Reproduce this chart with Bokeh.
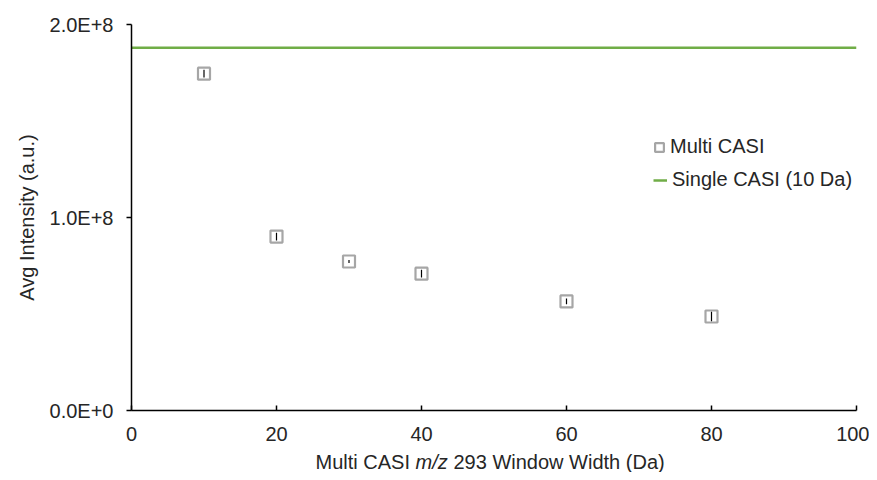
from bokeh.plotting import figure
from bokeh.layouts import column
from bokeh.models import (FixedTicker, CustomJSTickFormatter, Label, Legend,
                          LegendItem, Range1d, ColumnDataSource)
from bokeh.embed import file_html
from bokeh.resources import INLINE

# ---- data ----
window_width = [10, 20, 30, 40, 60, 80]
avg_intensity = [1.745e8, 0.901e8, 0.772e8, 0.709e8, 0.565e8, 0.487e8]
intensity_err = [2.0e6, 2.0e6, 0.8e6, 2.0e6, 1.5e6, 2.5e6]
single_casi = 1.88e8
x_limits = [0, 100]
y_limits = [0, 2.0e8]
x_ticks = [0, 20, 40, 60, 80, 100]
y_ticks = [0, 1.0e8, 2.0e8]

FONT = "Liberation Sans"
FS = "20px"
TXT = "#262626"
W = 869

p = figure(width=W, height=450, output_backend="svg", toolbar_location=None,
           min_border_left=131, min_border_right=13, min_border_top=24,
           min_border_bottom=40,
           x_range=Range1d(*x_limits), y_range=Range1d(*y_limits))
p.outline_line_color = None
p.grid.visible = False

src = ColumnDataSource(dict(
    x=window_width, y=avg_intensity,
    lo=[v - e for v, e in zip(avg_intensity, intensity_err)],
    hi=[v + e for v, e in zip(avg_intensity, intensity_err)]))

line_r = p.line(x=x_limits, y=[single_casi, single_casi], line_color="#70AD47",
                line_width=2.5)
sq = p.scatter("x", "y", source=src, marker="square", size=12,
               fill_color="white", line_color="#A6A6A6", line_width=2.2)
p.segment(x0="x", y0="lo", x1="x", y1="hi", source=src, line_color="black",
          line_width=1.2)

# axes
for ax in (p.xaxis[0], p.yaxis[0]):
    ax.axis_line_color = "black"
    ax.axis_line_width = 1.5
    ax.major_tick_line_color = "black"
    ax.major_tick_line_width = 1.5
    ax.minor_tick_line_color = None
    ax.major_label_text_font = FONT
    ax.major_label_text_font_size = FS
    ax.major_label_text_color = TXT

p.xaxis.ticker = FixedTicker(ticks=x_ticks)
p.xaxis.major_tick_in = 5
p.xaxis.major_tick_out = 0
p.xaxis.major_label_standoff = 16
p.xaxis.axis_label = None

p.yaxis.ticker = FixedTicker(ticks=y_ticks)
p.yaxis.major_tick_in = 0
p.yaxis.major_tick_out = 5
p.yaxis.major_label_standoff = 13
p.yaxis.formatter = CustomJSTickFormatter(
    code="return tick.toExponential(1).toUpperCase();")
p.yaxis.axis_label = "Avg Intensity (a.u.)"
p.yaxis.axis_label_text_font = FONT
p.yaxis.axis_label_text_font_size = FS
p.yaxis.axis_label_text_font_style = "normal"
p.yaxis.axis_label_text_color = TXT
p.yaxis.axis_label_standoff = 9

leg_common = dict(border_line_color=None, background_fill_alpha=0, padding=0,
                  margin=0, label_text_font=FONT, label_text_font_size=FS,
                  label_text_color=TXT, label_height=22)
legend1 = Legend(items=[LegendItem(label="Multi CASI", renderers=[sq])],
                 location=(517, 252), glyph_width=22, glyph_height=22,
                 label_standoff=0, **leg_common)
legend2 = Legend(items=[LegendItem(label="Single CASI (10 Da)", renderers=[line_r])],
                 location=(522, 219), glyph_width=14, glyph_height=22,
                 label_standoff=5, **leg_common)
p.add_layout(legend1)
p.add_layout(legend2)

# x-axis title (mixed upright / italic) in a thin strip below the chart
t = figure(width=W, height=22, output_backend="svg", toolbar_location=None,
           min_border=0, x_axis_type=None, y_axis_type=None,
           x_range=Range1d(0, 1), y_range=Range1d(0, 1))
t.outline_line_color = None
t.grid.visible = False
common = dict(x_units="screen", y_units="screen", y=11,
              text_font=FONT, text_font_size=FS, text_color=TXT,
              text_baseline="middle", text_align="left")
t.add_layout(Label(x=184, text="Multi CASI", **common))
t.add_layout(Label(x=284, text="m/z", text_font_style="italic", **common))
t.add_layout(Label(x=322, text="293 Window Width (Da)", **common))

layout = column(p, t, spacing=0)
open("out.html", "w").write(file_html(layout, INLINE))
